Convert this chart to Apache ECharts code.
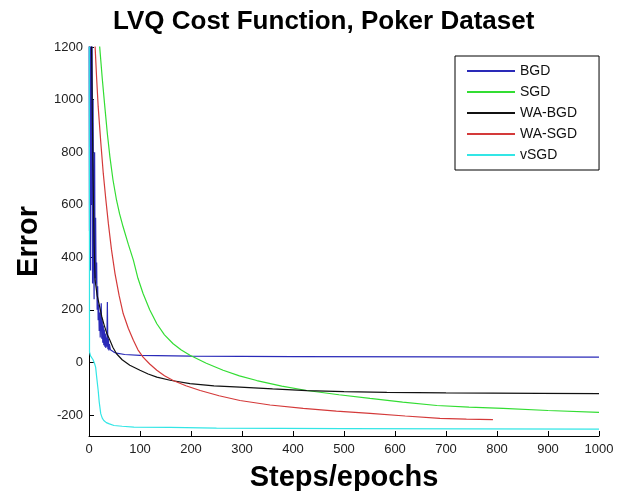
<!DOCTYPE html>
<html><head><meta charset="utf-8">
<script src="https://cdn.jsdelivr.net/npm/echarts@6/dist/echarts.min.js"></script>
<style>html,body{margin:0;padding:0;background:#fff}#c{width:621px;height:491px}</style>
</head><body><div id="c"></div>
<script>
const titleText = "LVQ Cost Function, Poker Dataset";
const xName = "Steps/epochs";
const yName = "Error";
const seriesNames = ["BGD", "SGD", "WA-BGD", "WA-SGD", "vSGD"];
const yTicks = [-200, 0, 200, 400, 600, 800, 1000, 1200];

// [step, error] pairs
const bgd = [[0,1500],[1,500],[2,1450],[3,350],[4,1350],[5,600],[6,1300],[7,300],[8,1000],[9,450],[10,240],[11,800],[12,320],[13,550],[14,300],[15,380],[16,200],[17,290],[18,160],[19,220],[20,120],[21,190],[22,95],[23,170],[24,225],[25,90],[26,160],[27,75],[28,140],[29,65],[30,125],[31,60],[32,110],[33,55],[34,95],[35,60],[36,230],[37,50],[38,90],[39,45],[40,70],[42,48],[45,42],[50,38],[54,35],[70,30],[100,27],[200,24],[400,22],[1000,20]];
const sgd = [[15,1500],[21,1200],[26,1080],[31,973],[36,870],[41,782],[47,695],[54,617],[60,565],[67,515],[77,450],[87,389],[96,320],[106,262],[119,200],[133,147],[148,105],[165,71],[181,47],[198,27],[230,-3],[263,-30],[295,-51],[329,-69],[378,-90],[427,-107],[490,-123],[551,-137],[615,-151],[682,-164],[745,-170],[812,-175],[900,-183],[1000,-190]];
const wabgd = [[1,2000],[5,1200],[8,700],[10,450],[12,312],[16,255],[21,211],[25,175],[30,140],[35,110],[41,84],[47,57],[54,33],[65,10],[80,-11],[100,-30],[116,-44],[133,-56],[159,-68],[198,-81],[245,-89],[296,-94],[360,-101],[427,-107],[500,-111],[584,-114],[700,-116],[884,-118],[1000,-119]];
const wasgd = [[8,1500],[12,1200],[15,1080],[18,973],[23,840],[28,719],[33,620],[38,528],[44,430],[51,338],[59,255],[67,186],[77,130],[87,84],[96,48],[106,20],[119,-6],[133,-30],[148,-51],[165,-69],[190,-89],[218,-107],[255,-127],[296,-145],[355,-162],[420,-175],[485,-185],[551,-194],[620,-204],[688,-213],[740,-216],[792,-218]];
const vsgd = [[0,3000],[1,40],[3,25],[8,10],[11,-5],[13,-18],[15,-55],[18,-107],[20,-150],[23,-195],[26,-212],[29,-221],[34,-229],[40,-234],[49,-240],[65,-243],[88,-246],[159,-247],[250,-250],[500,-252],[1000,-254]];

const colors = ["#2a2ab8", "#33dd33", "#111111", "#d43a3a", "#33e6e6"];
const datas = [bgd, sgd, wabgd, wasgd, vsgd];

const font = 'Liberation Sans, Arial, sans-serif';
const chart = echarts.init(document.getElementById('c'), null, {renderer: 'canvas'});
chart.setOption({
  animation: false,
  backgroundColor: '#fff',
  title: {text: titleText, left: 108, top: 4,
    textStyle: {fontFamily: font, fontWeight: 'bold', fontSize: 26, color: '#000'}},
  grid: {left: 89, right: 22, top: 47, bottom: 55, outerBoundsMode: 'none', containLabel: false},
  legend: {
    orient: 'vertical', left: 455, top: 56,
    data: seriesNames.map(n => ({name: n, icon: 'rect'})),
    itemWidth: 48, itemHeight: 2, itemGap: 7,
    padding: [8, 22, 8, 12],
    borderColor: '#000', borderWidth: 1, backgroundColor: '#fff',
    textStyle: {fontFamily: font, fontSize: 14, color: '#111', padding: [0,0,0,0]}
  },
  xAxis: {
    type: 'value', min: 0, max: 1000, interval: 100,
    name: xName, nameLocation: 'middle', nameGap: 27,
    nameTextStyle: {fontFamily: font, fontWeight: 'bold', fontSize: 29, color: '#000'},
    axisLine: {show: true, onZero: false, lineStyle: {color: '#000', width: 1}},
    axisTick: {show: true, inside: true, length: 5, lineStyle: {color: '#000'}},
    axisLabel: {fontFamily: font, fontSize: 13, color: '#222', margin: 7, formatter: v => String(v)},
    splitLine: {show: false}
  },
  yAxis: {
    type: 'value', min: -280, max: 1200,
    name: yName, nameLocation: 'middle', nameGap: 45, nameRotate: 90,
    nameTextStyle: {fontFamily: font, fontWeight: 'bold', fontSize: 29, color: '#000'},
    axisLine: {show: true, onZero: false, lineStyle: {color: '#000', width: 1}},
    axisTick: {show: true, inside: true, length: 5, lineStyle: {color: '#000'}, customValues: yTicks},
    axisLabel: {fontFamily: font, fontSize: 13, color: '#222', margin: 6, customValues: yTicks, formatter: v => String(v)},
    splitLine: {show: false}
  },
  series: seriesNames.map((n, i) => ({
    name: n, type: 'line', data: datas[i], showSymbol: false, symbol: 'none',
    clip: true, lineStyle: {color: colors[i], width: 1.2}, itemStyle: {color: colors[i]}
  }))
});
</script></body></html>
